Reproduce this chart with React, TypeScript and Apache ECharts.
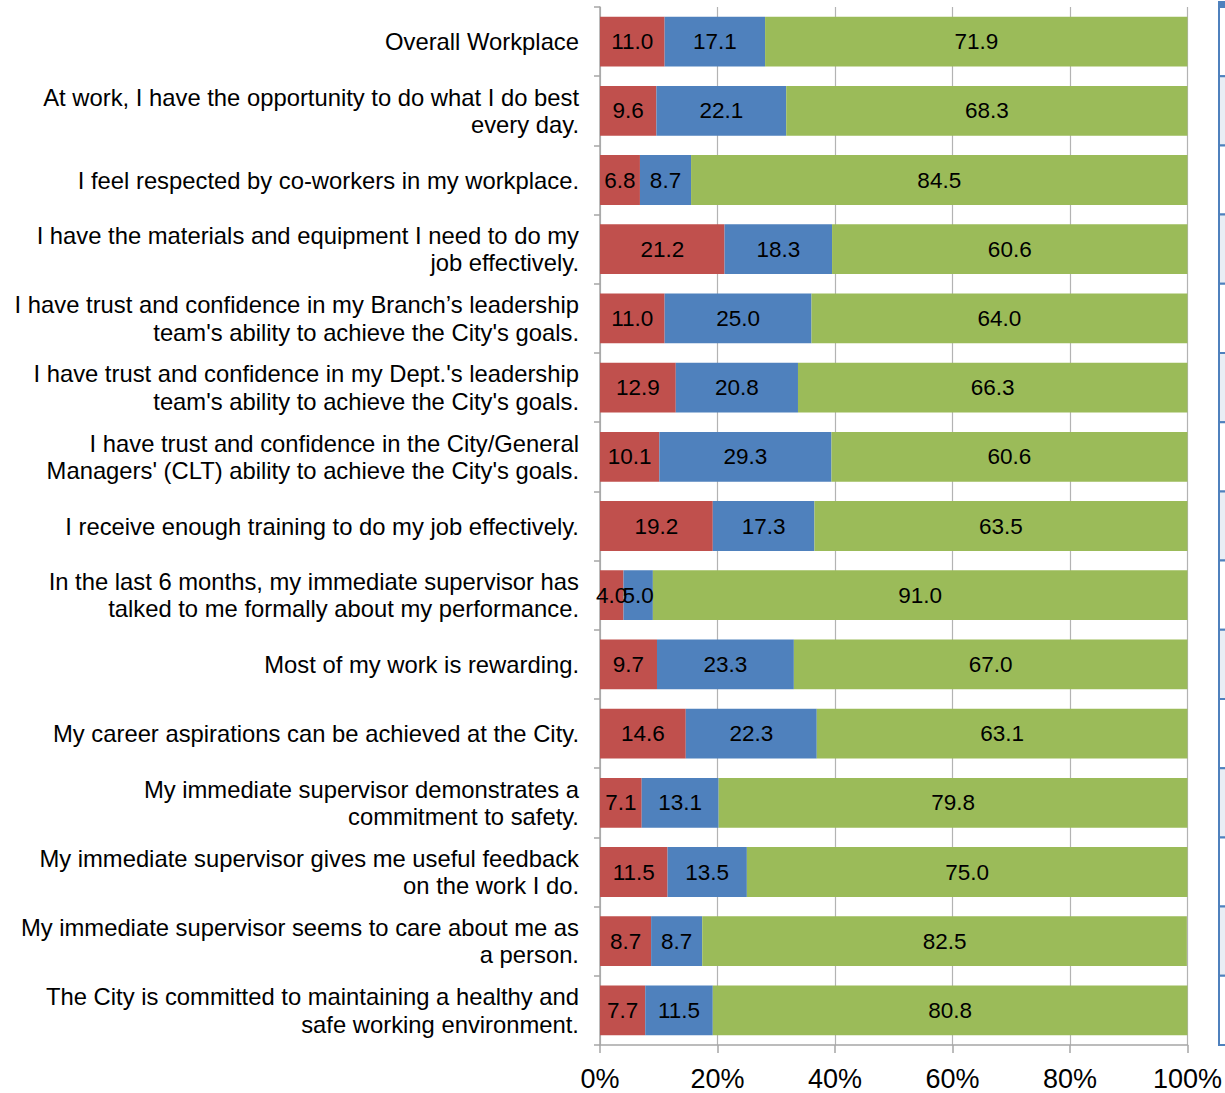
import React, { useEffect, useRef } from "react";
import * as echarts from "echarts";

const categories = [
  "Overall Workplace",
  "At work, I have the opportunity to do what I do best\nevery day.",
  "I feel respected by co-workers in my workplace.",
  "I have the materials and equipment I need to do my\njob effectively.",
  "I have trust and confidence in my Branch’s leadership\nteam's ability to achieve the City's goals.",
  "I have trust and confidence in my Dept.'s leadership\nteam's ability to achieve the City's goals.",
  "I have trust and confidence in the City/General\nManagers' (CLT) ability to achieve the City's goals.",
  "I receive enough training to do my job effectively.",
  "In the last 6 months, my immediate supervisor has\ntalked to me formally about my performance.",
  "Most of my work is rewarding.",
  "My career aspirations can be achieved at the City.",
  "My immediate supervisor demonstrates a\ncommitment to safety.",
  "My immediate supervisor gives me useful feedback\non the work I do.",
  "My immediate supervisor seems to care about me as\na person.",
  "The City is committed to maintaining a healthy and\nsafe working environment.",
];

const redValues = [11.0, 9.6, 6.8, 21.2, 11.0, 12.9, 10.1, 19.2, 4.0, 9.7, 14.6, 7.1, 11.5, 8.7, 7.7];
const blueValues = [17.1, 22.1, 8.7, 18.3, 25.0, 20.8, 29.3, 17.3, 5.0, 23.3, 22.3, 13.1, 13.5, 8.7, 11.5];
const greenValues = [71.9, 68.3, 84.5, 60.6, 64.0, 66.3, 60.6, 63.5, 91.0, 67.0, 63.1, 79.8, 75.0, 82.5, 80.8];

const xTicks = [0, 20, 40, 60, 80, 100];

export default function App() {
  const ref = useRef<HTMLDivElement>(null);
  useEffect(() => {
    if (!ref.current) return;
    const chart = echarts.init(ref.current, null, { renderer: "svg" });
    const font = "'Liberation Sans', Arial, sans-serif";
    const labelCfg = {
      show: true,
      position: "inside",
      color: "#000",
      fontSize: 22.5,
      fontFamily: font,
      formatter: (p: any) => Number(p.value).toFixed(1),
    };
    const mk = (name: string, data: number[], color: string) => ({
      name,
      type: "bar",
      stack: "total",
      data,
      barCategoryGap: "28%",
      itemStyle: { color },
      label: labelCfg,
    });
    const rowTop = 7;
    const rowH = (1045 - 7) / 15;
    const strip: any[] = [];
    for (let i = 0; i < 15; i++) {
      strip.push({
        type: "rect",
        shape: { x: 1219, y: rowTop + i * rowH, width: 12, height: rowH },
        style: { fill: i % 2 === 1 ? "#E9EEF5" : "#ffffff", stroke: "#4F81BD", lineWidth: 2 },
      });
    }
    strip.push({
      type: "rect",
      shape: { x: 1218, y: 1, width: 12, height: 6 },
      style: { fill: "#4F81BD" },
    });
    chart.setOption({
      animation: false,
      grid: { left: 600, right: 37, top: 7, bottom: 48, containLabel: false },
      xAxis: {
        type: "value",
        min: 0,
        max: 100,
        interval: 20,
        axisLine: { show: true, lineStyle: { color: "#A6A6A6", width: 1.5 } },
        axisTick: { show: true, length: 8, lineStyle: { color: "#A6A6A6", width: 1.5 } },
        splitLine: { show: true, lineStyle: { color: "#B3B3B3", width: 1.2 } },
        axisLabel: {
          fontSize: 27,
          color: "#000",
          fontFamily: font,
          margin: 20,
          formatter: (v: number) => (xTicks.includes(v) ? v + "%" : ""),
        },
      },
      yAxis: {
        type: "category",
        inverse: true,
        data: categories,
        axisLine: { show: true, lineStyle: { color: "#A6A6A6", width: 1.5 } },
        axisTick: { show: true, length: 6, lineStyle: { color: "#A6A6A6", width: 1.5 } },
        axisLabel: {
          fontSize: 23.8,
          lineHeight: 27.5,
          color: "#000",
          fontFamily: font,
          margin: 21,
          align: "right",
        },
      },
      series: [
        mk("Disagree", redValues, "#C0504D"),
        mk("Neutral", blueValues, "#4F81BD"),
        mk("Agree", greenValues, "#9BBB59"),
      ],
      graphic: strip,
    });
    return () => chart.dispose();
  }, []);
  return (
    <div
      ref={ref}
      style={{ position: "absolute", left: 0, top: 0, width: 1225, height: 1093 }}
    />
  );
}
